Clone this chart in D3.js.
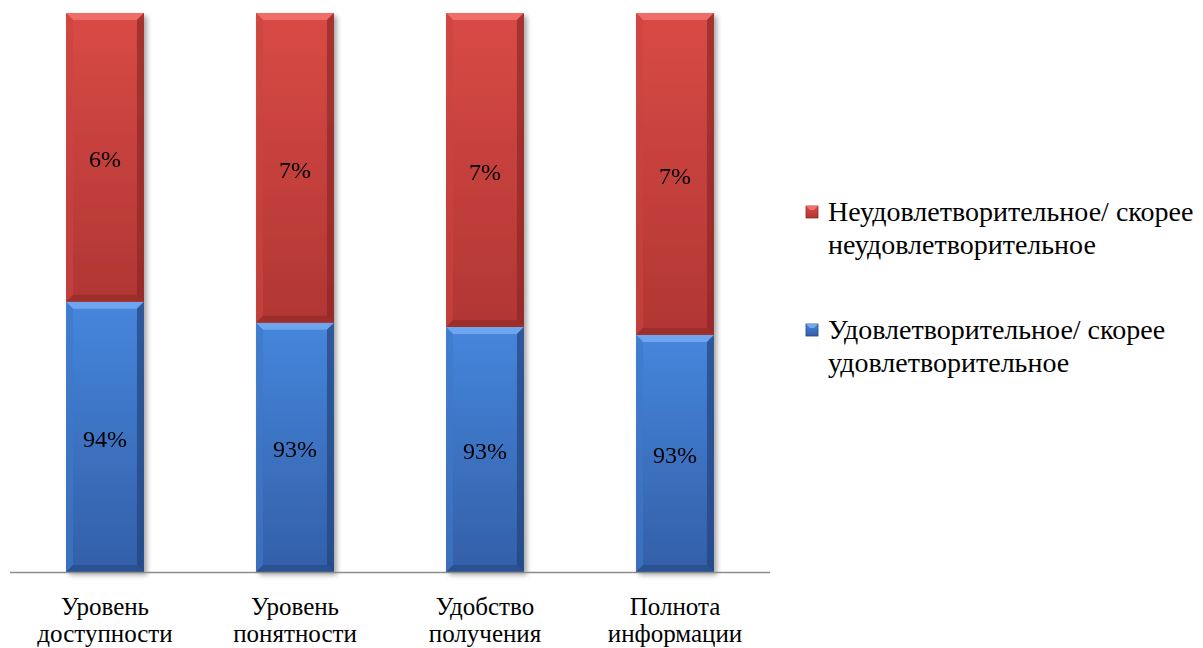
<!DOCTYPE html>
<html>

<head>
    <meta charset="UTF-8">
    <script src="https://d3js.org/d3.v7.min.js"></script>
    <title>stacked_bars</title>
    <style>
        body { margin: 0; background: #fff; }
    </style>
</head>

<body>
    <script>
        var w = 1203,
            h = 648;
        var FONT = "'Liberation Serif'";

        // категории (по две строки)
        var categories = [
            ["Уровень", "доступности"],
            ["Уровень", "понятности"],
            ["Удобство", "получения"],
            ["Полнота", "информации"]
        ];
        var satisfied = [0.938, 0.9335, 0.9326, 0.9309];
        var unsatisfied = [0.062, 0.0665, 0.0674, 0.0691];
        var seriesNames = [
            ["Неудовлетворительное/ скорее", "неудовлетворительное"],
            ["Удовлетворительное/ скорее", "удовлетворительное"]
        ];

        var svg = d3.select("body").append("svg")
            .attr("width", w)
            .attr("height", h);

        var defs = svg.append("defs");
        function grad(id, top, bottom) {
            var g = defs.append("linearGradient").attr("id", id)
                .attr("x1", 0).attr("y1", 0).attr("x2", 0).attr("y2", 1);
            g.append("stop").attr("offset", "0%").attr("stop-color", top);
            g.append("stop").attr("offset", "100%").attr("stop-color", bottom);
        }
        grad("gRed", "#d94a45", "#b13634");
        grad("gBlue", "#4686dc", "#335fa8");
        var filt = defs.append("filter").attr("id", "sh")
            .attr("x", "-20%").attr("y", "-5%").attr("width", "140%").attr("height", "110%");
        filt.append("feGaussianBlur").attr("in", "SourceAlpha").attr("stdDeviation", 2.5);
        filt.append("feOffset").attr("dx", 3).attr("dy", 3).attr("result", "b");
        filt.append("feComponentTransfer").append("feFuncA").attr("type", "linear").attr("slope", 0.35);
        var fm = filt.append("feMerge");
        fm.append("feMergeNode");
        fm.append("feMergeNode").attr("in", "SourceGraphic");

        var x = d3.scaleBand()
            .domain(d3.range(categories.length))
            .range([10, 770])
            .paddingInner(0.59)
            .paddingOuter(0.295);

        var y = d3.scaleLinear()
            .domain([0.88, 1])
            .range([572, 13])
            .clamp(true);

        // сегменты: снизу синий, сверху красный
        var segs = [];
        satisfied.forEach(function(v, i) {
            segs.push({ i: i, y0: 0, y1: v, val: v, s: 1 });
            segs.push({ i: i, y0: v, y1: v + unsatisfied[i], val: unsatisfied[i], s: 0 });
        });

        var colors = [
            { fill: "url(#gRed)", light: "#f2716b", dark: "#8e2826", side: "#c94440" },
            { fill: "url(#gBlue)", light: "#72a8ef", dark: "#24457e", side: "#3f78c8" }
        ];

        var bars = svg.append("g").attr("filter", "url(#sh)");
        var bv = 7;
        segs.forEach(function(d) {
            var x0 = x(d.i), bw = x.bandwidth();
            var top = y(d.y1), bot = y(d.y0);
            var c = colors[d.s];
            var g = bars.append("g");
            g.append("rect").attr("x", x0).attr("y", top)
                .attr("width", bw).attr("height", bot - top)
                .attr("fill", c.fill);
            // фаска сверху
            g.append("polygon").attr("points", [
                [x0, top], [x0 + bw, top], [x0 + bw - bv, top + bv], [x0 + bv, top + bv]
            ].join(" ")).attr("fill", c.light).attr("opacity", 0.9);
            // слева
            g.append("polygon").attr("points", [
                [x0, top], [x0 + bv, top + bv], [x0 + bv, bot - bv], [x0, bot]
            ].join(" ")).attr("fill", c.side).attr("opacity", 0.6);
            // справа
            g.append("polygon").attr("points", [
                [x0 + bw, top], [x0 + bw, bot], [x0 + bw - bv, bot - bv], [x0 + bw - bv, top + bv]
            ].join(" ")).attr("fill", c.dark).attr("opacity", 0.7);
            // снизу
            g.append("polygon").attr("points", [
                [x0, bot], [x0 + bw, bot], [x0 + bw - bv, bot - bv], [x0 + bv, bot - bv]
            ].join(" ")).attr("fill", c.dark).attr("opacity", 0.55);
        });

        // подписи значений
        svg.append("g").selectAll("text").data(segs).enter().append("text")
            .attr("x", function(d) { return x(d.i) + x.bandwidth() / 2; })
            .attr("y", function(d) { return (y(d.y0) + y(d.y1)) / 2 + 10; })
            .attr("text-anchor", "middle")
            .attr("font-family", FONT)
            .attr("font-size", 24)
            .text(function(d) { return Math.round(d.val * 100) + "%"; });

        // ось X
        svg.append("line")
            .attr("x1", 10).attr("x2", 770)
            .attr("y1", 572.5).attr("y2", 572.5)
            .attr("stroke", "#8c8c8c").attr("stroke-width", 1.5);

        // подписи категорий
        var xl = svg.append("g").selectAll("text").data(categories).enter().append("text")
            .attr("text-anchor", "middle")
            .attr("font-family", FONT)
            .attr("font-size", 25)
            .attr("transform", function(d, i) {
                return "translate(" + (x(i) + x.bandwidth() / 2) + ",0)";
            });
        xl.selectAll("tspan").data(function(d) { return d; }).enter().append("tspan")
            .attr("x", 0)
            .attr("y", function(d, j) { return 615 + j * 27; })
            .text(function(d) { return d; });

        // легенда
        var leg = svg.append("g");
        var legY = [212, 330];
        var legC = [colors[0], colors[1]];
        seriesNames.forEach(function(n, k) {
            var g = leg.append("g").attr("transform", "translate(806," + legY[k] + ")");
            g.append("rect").attr("x", 0).attr("y", -6).attr("width", 12).attr("height", 12)
                .attr("fill", k == 0 ? "url(#gRed)" : "url(#gBlue)")
                .attr("stroke", legC[k].dark).attr("stroke-width", 0.8);
            g.append("polygon").attr("points", "0,-6 12,-6 8,-2 4,-2").attr("fill", legC[k].light);
            var t = g.append("text").attr("font-family", FONT).attr("font-size", 28);
            n.forEach(function(line, j) {
                t.append("tspan").attr("x", 22).attr("y", 9 + j * 33).text(line);
            });
        });
    </script>
</body>

</html>
